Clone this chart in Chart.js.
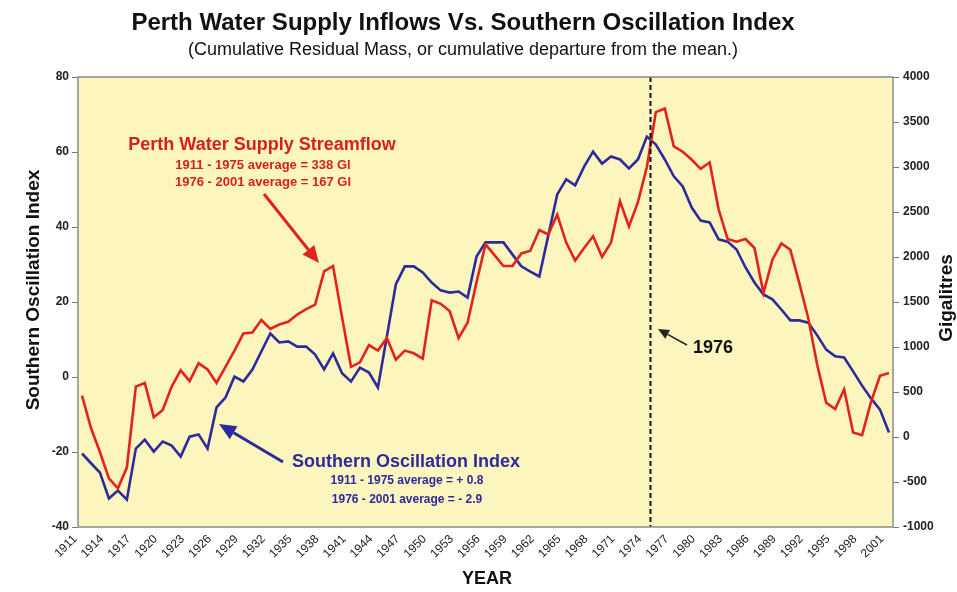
<!DOCTYPE html>
<html><head><meta charset="utf-8">
<script src="https://cdn.jsdelivr.net/npm/chart.js@4.4.1/dist/chart.umd.min.js"></script>
<style>html,body{margin:0;padding:0;background:#fff}canvas{display:block}</style>
</head><body>
<canvas id="c" width="957" height="592"></canvas>
<script>
// ---- data ----
const years = [1911,1912,1913,1914,1915,1916,1917,1918,1919,1920,
  1921,1922,1923,1924,1925,1926,1927,1928,1929,1930,
  1931,1932,1933,1934,1935,1936,1937,1938,1939,1940,
  1941,1942,1943,1944,1945,1946,1947,1948,1949,1950,
  1951,1952,1953,1954,1955,1956,1957,1958,1959,1960,
  1961,1962,1963,1964,1965,1966,1967,1968,1969,1970,
  1971,1972,1973,1974,1975,1976,1977,1978,1979,1980,
  1981,1982,1983,1984,1985,1986,1987,1988,1989,1990,
  1991,1992,1993,1994,1995,1996,1997,1998,1999,2000,2001];

// Southern Oscillation Index, cumulative residual mass (left axis)
const soiCRM = [-20.4,-23,-25.5,-32.4,-30.3,-32.7,-19.1,-16.7,-19.9,-17.2,
  -18.3,-21.2,-15.9,-15.3,-19.1,-8.1,-5.5,0.1,-1.2,2,
  6.8,11.6,9.2,9.5,8.1,8.1,6,2,6.3,1,
  -1.2,2.5,1.2,-2.8,10.8,24.7,29.5,29.5,27.9,25.2,
  23.1,22.5,22.8,21.2,32.1,35.9,35.9,35.9,32.7,29.5,
  28.1,26.8,37.7,48.7,52.7,51.1,56.1,60.1,56.9,58.8,
  58,55.6,58,64.1,62,58,53.5,50.8,45.2,41.7,
  41.2,36.7,36.1,34,29.2,25.2,22,20.7,18,15.1,
  15.1,14.5,11.1,7.3,5.5,5.2,1.5,-2.3,-5.7,-8.7,-14.8];

// Perth water supply streamflow, cumulative residual mass in gigalitres (right axis)
const streamflowCRM = [460,100,-170,-460,-570,-340,560,600,220,300,
  560,740,620,820,750,600,780,960,1150,1160,
  1300,1200,1250,1280,1360,1420,1470,1840,1900,1330,
  780,830,1020,960,1100,860,960,930,870,1520,
  1480,1400,1100,1270,1720,2140,2020,1900,1900,2040,
  2070,2300,2250,2470,2160,1960,2100,2230,2000,2160,
  2620,2340,2610,3000,3610,3650,3230,3170,3080,2980,
  3050,2530,2200,2170,2200,2100,1600,1970,2150,2080,
  1710,1320,800,380,310,530,50,20,390,680,710];

const yearTicks = [1911,1914,1917,1920,1923,1926,1929,1932,1935,1938,1941,1944,1947,1950,
  1953,1956,1959,1962,1965,1968,1971,1974,1977,1980,1983,1986,1989,1992,1995,1998,2001];
const markerYear = 1974.4;   // dashed "1976" marker as drawn in the picture

// ---- styling ----
const FONT = "'Liberation Sans', Arial, Helvetica, sans-serif";
const RED = '#E3221B';
const BLUE = '#2D2A9B';
const PLOT_BG = '#FCF6BE';
Chart.defaults.font.family = FONT;

function arrow(ctx, x1, y1, x2, y2, color, w, hl, hw) {
  const a = Math.atan2(y2 - y1, x2 - x1);
  const bx = x2 - hl * Math.cos(a), by = y2 - hl * Math.sin(a);
  ctx.save();
  ctx.strokeStyle = color; ctx.fillStyle = color; ctx.lineWidth = w; ctx.lineCap = 'butt';
  ctx.beginPath(); ctx.moveTo(x1, y1); ctx.lineTo(bx, by); ctx.stroke();
  ctx.beginPath(); ctx.moveTo(x2, y2);
  ctx.lineTo(bx + hw / 2 * Math.sin(a), by - hw / 2 * Math.cos(a));
  ctx.lineTo(bx - hw / 2 * Math.sin(a), by + hw / 2 * Math.cos(a));
  ctx.closePath(); ctx.fill();
  ctx.restore();
}
function txt(ctx, s, x, y, font, color, rot) {
  ctx.save();
  ctx.font = font; ctx.fillStyle = color; ctx.textAlign = 'center'; ctx.textBaseline = 'middle';
  ctx.translate(x, y);
  if (rot) ctx.rotate(rot);
  ctx.fillText(s, 0, 0);
  ctx.restore();
}

const decor = {
  id: 'decor',
  beforeDraw(chart) {
    const {ctx, chartArea: a} = chart;
    ctx.save();
    ctx.fillStyle = '#fff'; ctx.fillRect(0, 0, chart.width, chart.height);
    ctx.fillStyle = PLOT_BG; ctx.fillRect(a.left, a.top, a.right - a.left, a.bottom - a.top);
    ctx.restore();
  },
  afterDatasetsDraw(chart) {
    const {ctx, chartArea: a, scales} = chart;
    const mx = Math.round(scales.x.getPixelForValue(markerYear)) + 0.5;
    ctx.save();
    ctx.strokeStyle = '#111'; ctx.lineWidth = 2; ctx.setLineDash([5, 3]);
    ctx.beginPath(); ctx.moveTo(mx, a.top); ctx.lineTo(mx, a.bottom); ctx.stroke();
    ctx.setLineDash([]);
    ctx.strokeStyle = '#8c8c8c'; ctx.lineWidth = 1.5;
    ctx.strokeRect(a.left, a.top, a.right - a.left, a.bottom - a.top);
    ctx.restore();
  },
  afterDraw(chart) {
    const ctx = chart.ctx;
    txt(ctx, 'Perth Water Supply Inflows Vs. Southern Oscillation Index', 463, 23, 'bold 24px ' + FONT, '#111');
    txt(ctx, '(Cumulative Residual Mass, or cumulative departure from the mean.)', 463, 50, '18px ' + FONT, '#111');
    txt(ctx, 'Southern Oscillation Index', 34, 290, 'bold 19px ' + FONT, '#111', -Math.PI / 2);
    txt(ctx, 'Gigalitres', 947, 298, 'bold 19px ' + FONT, '#111', -Math.PI / 2);
    txt(ctx, 'YEAR', 487, 579, 'bold 18px ' + FONT, '#111');

    txt(ctx, 'Perth Water Supply Streamflow', 262, 145, 'bold 18px ' + FONT, '#D81F1A');
    txt(ctx, '1911 - 1975 average = 338 Gl', 263, 165, 'bold 13px ' + FONT, '#D81F1A');
    txt(ctx, '1976 - 2001 average = 167 Gl', 263, 182, 'bold 13px ' + FONT, '#D81F1A');
    arrow(ctx, 264, 194, 319, 263, '#E3221B', 3, 17, 15);

    txt(ctx, 'Southern Oscillation Index', 406, 462, 'bold 18px ' + FONT, BLUE);
    txt(ctx, '1911 - 1975 average = + 0.8', 407, 481, 'bold 12px ' + FONT, BLUE);
    txt(ctx, '1976 - 2001 average = - 2.9', 407, 500, 'bold 12px ' + FONT, BLUE);
    arrow(ctx, 283, 462, 219, 424, BLUE, 3, 17, 15);

    txt(ctx, '1976', 713, 348, 'bold 18px ' + FONT, '#111');
    arrow(ctx, 687, 345, 658, 329, '#222', 1.5, 11, 10);
  }
};

new Chart(document.getElementById('c'), {
  type: 'line',
  data: {
    datasets: [
      {
        label: 'Perth Water Supply Streamflow',
        data: years.map((y, i) => ({x: y, y: streamflowCRM[i]})),
        yAxisID: 'y2', borderColor: RED, borderWidth: 2.6, pointRadius: 0, tension: 0, fill: false
      },
      {
        label: 'Southern Oscillation Index',
        data: years.map((y, i) => ({x: y, y: soiCRM[i]})),
        yAxisID: 'y', borderColor: BLUE, borderWidth: 2.6, pointRadius: 0, tension: 0, fill: false
      }
    ]
  },
  options: {
    responsive: false, animation: false,
    layout: {padding: {top: 77, left: 0, right: 0, bottom: 0}},
    plugins: {legend: {display: false}, tooltip: {enabled: false}, title: {display: false}},
    scales: {
      x: {
        type: 'linear', min: 1910.55, max: 2001.45,
        afterBuildTicks: s => { s.ticks = yearTicks.map(v => ({value: v})); },
        afterFit: s => { s.height = 65; },
        grid: {display: false, drawTicks: false},
        border: {display: false},
        ticks: {autoSkip: false, minRotation: 45, maxRotation: 45, padding: 5, labelOffset: -7,
          color: '#222', font: {size: 12, family: FONT}, callback: v => String(v)}
      },
      y: {
        position: 'left', min: -40, max: 80,
        afterFit: s => { s.width = 78; },
        grid: {drawOnChartArea: false, tickLength: 6, color: '#777', lineWidth: 1},
        border: {display: false},
        ticks: {stepSize: 20, padding: 3, color: '#222', font: {size: 12, weight: 'bold', family: FONT},
          callback: v => String(v)}
      },
      y2: {
        position: 'right', min: -1000, max: 4000,
        afterFit: s => { s.width = 64; },
        grid: {drawOnChartArea: false, tickLength: 6, color: '#777', lineWidth: 1},
        border: {display: false},
        ticks: {stepSize: 500, padding: 4, color: '#222', font: {size: 12, weight: 'bold', family: FONT},
          callback: v => String(v)}
      }
    }
  },
  plugins: [decor]
});
</script>
</body></html>
